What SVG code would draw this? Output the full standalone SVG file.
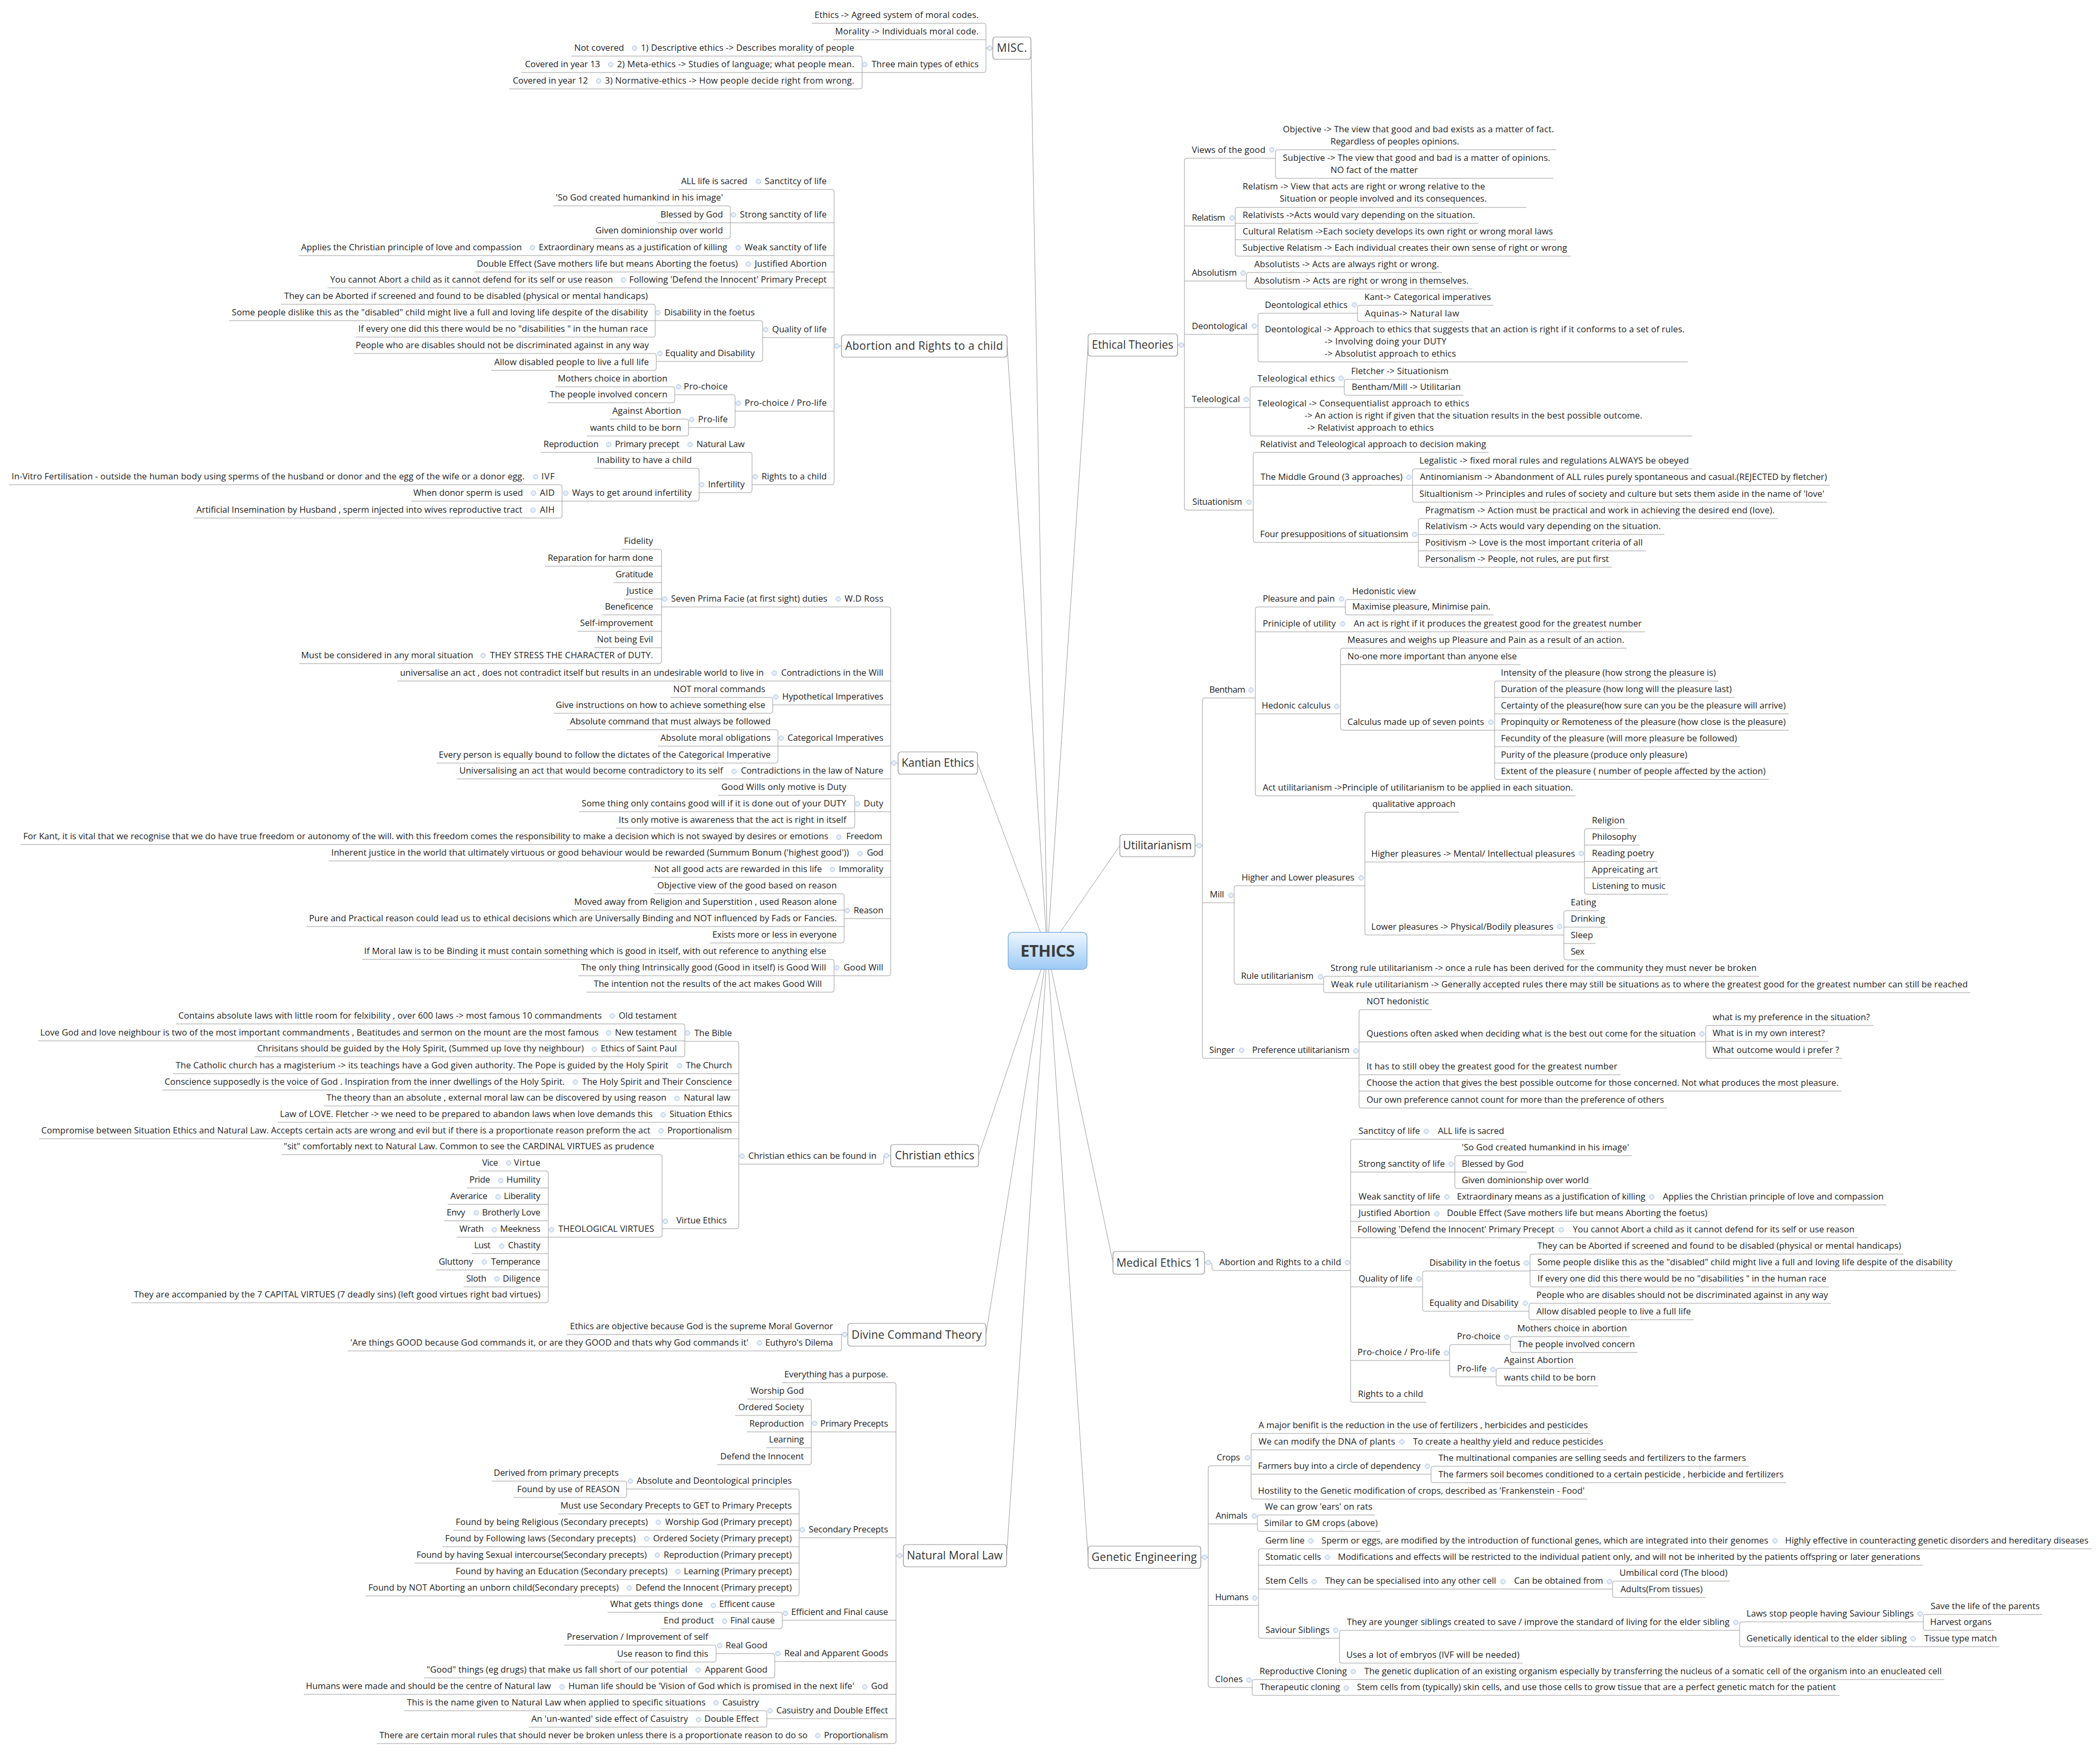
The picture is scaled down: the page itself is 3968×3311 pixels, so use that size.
<svg xmlns="http://www.w3.org/2000/svg" width="3968" height="3311" viewBox="0 0 3968 3311">
<style>
text{font-family:"Open Sans","Noto Sans","DejaVu Sans",sans-serif;font-size:16.5px;fill:#1e1e1e}
.e{text-anchor:end}
.m{font-size:21px;fill:#333;text-anchor:middle}
.c path{stroke:#9a9a9a;stroke-width:1;fill:none}
.b{fill:#fff;stroke:#8c8c8c;stroke-width:1.2}
</style>
<defs>
<linearGradient id="g" x1="0" y1="0" x2="0" y2="1"><stop offset="0" stop-color="#eef6ff"/><stop offset="1" stop-color="#9ccaf5"/></linearGradient>
<g id="k"><circle r="4.5" fill="#dce8f8" stroke="#aac4e6" stroke-width="1"/><path d="M-2.5,0H2.5" stroke="#fff" stroke-width="1.2"/></g>
</defs>
<rect width="3968" height="3311" fill="#fff"/>
<g id="connectors" class="c">
<path d="M1979,1797 L1948,91 M1979,1797 L1903,654 M1979,1797 L1847,1442 M1979,1797 L1849,2184 M1979,1797 L1863,2522 M1979,1797 L1902,2940 M1979,1797 L2056,652 M1979,1797 L2116,1598 M1979,1797 L2103,2386 M1979,1797 L2056,2943"/>
<path d="M1534,44 H1859 Q1863,44 1863,48 V133 Q1863,137 1859,137 H1629 M1574,75 H1863 M1863,91 H1876"/>
<path d="M1194,106 H1625 Q1629,106 1629,110 V164 Q1629,168 1625,168 H1126 M1149,137 H1629"/>
<path d="M1079,106 H1194 M985,137 H1149 M962,168 H1126"/>
<path d="M1282,358 H1572 Q1576,358 1576,362 V912 Q1576,916 1572,916 H1421 M1380,421 H1576 M564,483 H1576 M897,514 H1576 M619,544 H1576 M1441,638 H1576 M1389,777 H1576 M1576,654 H1590"/>
<path d="M1045,389 H1376 Q1380,389 1380,393 V447 Q1380,451 1376,451 H1121 M1243,421 H1380"/>
<path d="M1238,606 H1437 Q1441,606 1441,610 V679 Q1441,683 1437,683 H1240"/>
<path d="M531,575 H1234 Q1238,575 1238,579 V633 Q1238,637 1234,637 H672 M433,606 H1238"/>
<path d="M668,668 H1236 Q1240,668 1240,672 V696 Q1240,700 1236,700 H928"/>
<path d="M1275,746 H1385 Q1389,746 1389,750 V804 Q1389,808 1385,808 H1301"/>
<path d="M1049,731 H1271 Q1275,731 1275,735 V757 Q1275,761 1271,761 H1034"/>
<path d="M1152,792 H1297 Q1301,792 1301,796 V820 Q1301,824 1297,824 H1109"/>
<path d="M1022,855 H1417 Q1421,855 1421,859 V927 Q1421,931 1417,931 H1321"/>
<path d="M1123,885 H1317 Q1321,885 1321,889 V943 Q1321,947 1317,947 H1062"/>
<path d="M17,916 H1058 Q1062,916 1062,920 V975 Q1062,979 1058,979 H366 M777,947 H1062"/>
<path d="M1250,1147 H1679 Q1683,1147 1683,1151 V1840 Q1683,1844 1679,1844 H1576 M751,1287 H1683 M1460,1332 H1683 M1470,1410 H1683 M863,1472 H1683 M1615,1534 H1683 M39,1596 H1683 M621,1627 H1683 M1231,1658 H1683 M1595,1736 H1683 M1683,1442 H1697"/>
<path d="M1175,1038 H1246 Q1250,1038 1250,1042 V1250 Q1250,1254 1246,1254 H565 M1030,1070 H1250 M1159,1101 H1250 M1179,1132 H1250 M1138,1162 H1250 M1091,1193 H1250 M1123,1224 H1250"/>
<path d="M1267,1318 H1456 Q1460,1318 1460,1322 V1344 Q1460,1348 1456,1348 H1046"/>
<path d="M1071,1379 H1466 Q1470,1379 1470,1383 V1438 Q1470,1442 1466,1442 H825 M1243,1410 H1470"/>
<path d="M1357,1503 H1611 Q1615,1503 1615,1507 V1561 Q1615,1565 1611,1565 H1164 M1094,1534 H1615"/>
<path d="M1236,1689 H1591 Q1595,1689 1595,1693 V1778 Q1595,1782 1591,1782 H1341 M1080,1720 H1595 M579,1751 H1595"/>
<path d="M684,1813 H1572 Q1576,1813 1576,1817 V1871 Q1576,1875 1572,1875 H1108 M1093,1844 H1576"/>
<path d="M1396,2200 H1666 Q1670,2200 1670,2196 V2184 H1683"/>
<path d="M1294,1968 H1392 Q1396,1968 1396,1972 V2318 Q1396,2322 1392,2322 H1251 M327,2029 H1396 M307,2060 H1396 M612,2090 H1396 M525,2121 H1396 M74,2152 H1396"/>
<path d="M333,1935 H1290 Q1294,1935 1294,1939 V1993 Q1294,1997 1290,1997 H481 M72,1967 H1294"/>
<path d="M532,2182 H1247 Q1251,2182 1251,2186 V2334 Q1251,2338 1247,2338 H1036"/>
<path d="M905,2213 H1032 Q1036,2213 1036,2217 V2458 Q1036,2462 1032,2462 H248 M882,2245 H1036 M846,2276 H1036 M839,2307 H1036 M863,2338 H1036 M891,2369 H1036 M824,2400 H1036 M876,2432 H1036"/>
<path d="M1071,2522 H1602 M1590,2522 V2549 Q1590,2553 1586,2553 H657"/>
<path d="M1477,2613 H1689 Q1693,2613 1693,2617 V3291 Q1693,3295 1689,3295 H712 M1533,2706 H1693 M1510,2906 H1693 M1478,3062 H1693 M1464,3140 H1693 M574,3202 H1693 M1449,3248 H1693 M1693,2940 H1707"/>
<path d="M1412,2644 H1529 Q1533,2644 1533,2648 V2764 Q1533,2768 1529,2768 H1355 M1389,2675 H1533 M1411,2706 H1533 M1448,2736 H1533"/>
<path d="M1184,2814 H1506 Q1510,2814 1510,2818 V3012 Q1510,3016 1506,3016 H691 M1055,2861 H1510 M857,2892 H1510 M836,2923 H1510 M783,2954 H1510 M856,2985 H1510"/>
<path d="M929,2799 H1180 Q1184,2799 1184,2803 V2826 Q1184,2830 1180,2830 H970"/>
<path d="M1148,3047 H1474 Q1478,3047 1478,3051 V3074 Q1478,3078 1474,3078 H1249"/>
<path d="M1353,3125 H1460 Q1464,3125 1464,3129 V3167 Q1464,3171 1460,3171 H801"/>
<path d="M1066,3109 H1349 Q1353,3109 1353,3113 V3137 Q1353,3141 1349,3141 H1162"/>
<path d="M764,3233 H1445 Q1449,3233 1449,3237 V3260 Q1449,3264 1445,3264 H999"/>
<path d="M2410,299 H2242 Q2238,299 2238,303 V960 Q2238,964 2242,964 H2368 M2334,427 H2238 M2355,531 H2238 M2377,632 H2238 M2362,770 H2238 M2225,652 H2238"/>
<path d="M2941,283 H2414 Q2410,283 2410,287 V333 Q2410,337 2414,337 H2935"/>
<path d="M2884,392 H2338 Q2334,392 2334,396 V480 Q2334,484 2338,484 H2968 M2793,422 H2334 M2940,453 H2334"/>
<path d="M2725,515 H2359 Q2355,515 2355,519 V542 Q2355,546 2359,546 H2782"/>
<path d="M2565,592 H2381 Q2377,592 2377,596 V680 Q2377,684 2381,684 H3189"/>
<path d="M2822,577 H2569 Q2565,577 2565,581 V604 Q2565,608 2569,608 H2764"/>
<path d="M2540,731 H2366 Q2362,731 2362,735 V820 Q2362,824 2366,824 H3198"/>
<path d="M2743,717 H2544 Q2540,717 2540,721 V743 Q2540,747 2544,747 H2765"/>
<path d="M2813,855 H2372 Q2368,855 2368,859 V1021 Q2368,1025 2372,1025 H2680 M2669,917 H2368"/>
<path d="M3197,886 H2673 Q2669,886 2669,890 V945 Q2669,949 2673,949 H3452 M3458,917 H2669"/>
<path d="M3359,980 H2684 Q2680,980 2680,984 V1068 Q2680,1072 2684,1072 H3046 M3145,1010 H2680 M3110,1041 H2680"/>
<path d="M2372,1319 H2276 Q2272,1319 2272,1323 V1996 Q2272,2000 2276,2000 H2568 M2332,1706 H2272 M2258,1598 H2272"/>
<path d="M2542,1147 H2376 Q2372,1147 2372,1151 V1500 Q2372,1504 2376,1504 H2977 M3108,1194 H2372 M2533,1349 H2372"/>
<path d="M2681,1133 H2546 Q2542,1133 2542,1137 V1158 Q2542,1162 2546,1162 H2822"/>
<path d="M3074,1225 H2537 Q2533,1225 2533,1229 V1376 Q2533,1380 2537,1380 H2824 M2873,1256 H2533"/>
<path d="M3247,1287 H2828 Q2824,1287 2824,1291 V1469 Q2824,1473 2828,1473 H3342 M3278,1318 H2824 M3380,1349 H2824 M3380,1380 H2824 M3288,1411 H2824 M3193,1442 H2824"/>
<path d="M2579,1674 H2336 Q2332,1674 2332,1678 V1856 Q2332,1860 2336,1860 H2501"/>
<path d="M2757,1535 H2583 Q2579,1535 2579,1539 V1763 Q2579,1767 2583,1767 H2955 M2994,1629 H2579"/>
<path d="M3076,1566 H2998 Q2994,1566 2994,1570 V1686 Q2994,1690 2998,1690 H3152 M3098,1597 H2994 M3131,1628 H2994 M3139,1659 H2994"/>
<path d="M3021,1721 H2959 Q2955,1721 2955,1725 V1810 Q2955,1814 2959,1814 H3000 M3038,1752 H2955 M3015,1783 H2955"/>
<path d="M3324,1845 H2505 Q2501,1845 2501,1849 V1872 Q2501,1876 2505,1876 H3723"/>
<path d="M2706,1908 H2572 Q2568,1908 2568,1912 V2090 Q2568,2094 2572,2094 H3150 M3223,1969 H2568 M3062,2031 H2568 M3480,2062 H2568"/>
<path d="M3540,1938 H3227 Q3223,1938 3223,1942 V1996 Q3223,2000 3227,2000 H3481 M3454,1968 H3223"/>
<path d="M2276,2386 H2286 Q2290,2386 2290,2390 V2397 Q2290,2401 2294,2401 H2552"/>
<path d="M2847,2153 H2556 Q2552,2153 2552,2157 V2646 Q2552,2650 2556,2650 H2695 M2749,2215 H2552 M3564,2277 H2552 M3231,2308 H2552 M3510,2339 H2552 M2688,2432 H2552 M2739,2571 H2552"/>
<path d="M3083,2184 H2753 Q2749,2184 2749,2188 V2242 Q2749,2246 2753,2246 H3008 M2885,2215 H2749"/>
<path d="M2891,2402 H2692 Q2688,2402 2688,2406 V2474 Q2688,2478 2692,2478 H2889"/>
<path d="M3597,2370 H2895 Q2891,2370 2891,2374 V2428 Q2891,2432 2895,2432 H3456 M3696,2401 H2891"/>
<path d="M3460,2463 H2893 Q2889,2463 2889,2467 V2490 Q2889,2494 2893,2494 H3200"/>
<path d="M2854,2541 H2743 Q2739,2541 2739,2545 V2598 Q2739,2602 2743,2602 H2827"/>
<path d="M3080,2526 H2858 Q2854,2526 2854,2530 V2552 Q2854,2556 2858,2556 H3094"/>
<path d="M2978,2586 H2831 Q2827,2586 2827,2590 V2615 Q2827,2619 2831,2619 H3020"/>
<path d="M2364,2770 H2287 Q2283,2770 2283,2774 V3185 Q2283,3189 2287,3189 H2366 M2376,2880 H2283 M2378,3034 H2283 M2269,2943 H2283"/>
<path d="M3005,2709 H2368 Q2364,2709 2364,2713 V2829 Q2364,2833 2368,2833 H2999 M3035,2740 H2364 M2704,2786 H2364"/>
<path d="M3305,2771 H2708 Q2704,2771 2704,2775 V2798 Q2704,2802 2708,2802 H3375"/>
<path d="M2598,2863 H2380 Q2376,2863 2376,2867 V2890 Q2376,2894 2380,2894 H2609"/>
<path d="M3952,2927 H2382 Q2378,2927 2378,2931 V3092 Q2378,3096 2382,3096 H2531 M3633,2958 H2378 M3047,3003 H2378"/>
<path d="M3269,2988 H3051 Q3047,2988 3047,2992 V3015 Q3047,3019 3051,3019 H3223"/>
<path d="M3287,3081 H2535 Q2531,3081 2531,3085 V3139 Q2531,3143 2535,3143 H2877"/>
<path d="M3634,3065 H3291 Q3287,3065 3287,3069 V3108 Q3287,3112 3291,3112 H3778"/>
<path d="M3859,3051 H3638 Q3634,3051 3634,3055 V3077 Q3634,3081 3638,3081 H3768"/>
<path d="M3674,3174 H2370 Q2366,3174 2366,3178 V3200 Q2366,3204 2370,3204 H3476"/>
</g>
<g id="ethics"><rect x="1905" y="1762" width="149" height="70" rx="9" fill="url(#g)" stroke="#7fb0e0" stroke-width="1.5"/><text x="1979.5" y="1808" text-anchor="middle" style="font-size:31px;font-weight:bold;fill:#3c3c3c" textLength="103">ETHICS</text></g>

<g id="misc"><rect class="b" x="1876" y="70" width="72" height="42" rx="5"/><text class="m" x="1912" y="98" textLength="57">MISC.</text><use href="#k" x="1870" y="91"/></g>
<g id="misc1"><text class="e" x="1849" y="34" textLength="310">Ethics -&gt; Agreed system of moral codes.</text></g>
<g id="misc2"><text class="e" x="1849" y="65" textLength="271">Morality -&gt; Individuals moral code.</text></g>
<g id="misc3"><text class="e" x="1849" y="127" textLength="202">Three main types of ethics</text><use href="#k" x="1634" y="122"/></g>
<g id="misc4"><text class="e" x="1614" y="96" textLength="403">1) Descriptive ethics -&gt; Describes morality of people</text><use href="#k" x="1199" y="91"/></g>
<g id="misc5"><text class="e" x="1614" y="127" textLength="448">2) Meta-ethics -&gt; Studies of language; what people mean.</text><use href="#k" x="1154" y="122"/></g>
<g id="misc6"><text class="e" x="1614" y="158" textLength="471">3) Normative-ethics -&gt; How people decide right from wrong.</text><use href="#k" x="1131" y="153"/></g>
<g id="misc7"><text class="e" x="1179" y="96" textLength="94">Not covered</text></g>
<g id="misc8"><text class="e" x="1134" y="127" textLength="142">Covered in year 13</text></g>
<g id="misc9"><text class="e" x="1111" y="158" textLength="142">Covered in year 12</text></g>

<g id="ab"><rect class="b" x="1590" y="633" width="313" height="42" rx="5"/><text class="m" x="1746" y="661" textLength="298">Abortion and Rights to a child</text><use href="#k" x="1581" y="654"/></g>
<g id="ab1"><text class="e" x="1562" y="348" textLength="117">Sanctitcy of life</text><use href="#k" x="1433" y="343"/></g>
<g id="ab2"><text class="e" x="1412" y="348" textLength="125">ALL life is sacred</text></g>
<g id="ab3"><text class="e" x="1562" y="411" textLength="164">Strong sanctity of life</text><use href="#k" x="1386" y="406"/></g>
<g id="ab4"><text class="e" x="1366" y="379" textLength="316">'So God created humankind in his image'</text></g>
<g id="ab5"><text class="e" x="1366" y="411" textLength="118">Blessed by God</text></g>
<g id="ab6"><text class="e" x="1366" y="441" textLength="241">Given dominionship over world</text></g>
<g id="ab7"><text class="e" x="1562" y="473" textLength="155">Weak sanctity of life</text><use href="#k" x="1395" y="468"/></g>
<g id="ab8"><text class="e" x="1374" y="473" textLength="356">Extraordinary means as a justification of killing</text><use href="#k" x="1006" y="468"/></g>
<g id="ab9"><text class="e" x="986" y="473" textLength="417">Applies the Christian principle of love and compassion</text></g>
<g id="ab10"><text class="e" x="1562" y="504" textLength="136">Justified Abortion</text><use href="#k" x="1414" y="499"/></g>
<g id="ab11"><text class="e" x="1394" y="504" textLength="493">Double Effect (Save mothers life but means Aborting the foetus)</text></g>
<g id="ab12"><text class="e" x="1562" y="534" textLength="373">Following 'Defend the Innocent' Primary Precept</text><use href="#k" x="1178" y="529"/></g>
<g id="ab13"><text class="e" x="1158" y="534" textLength="534">You cannot Abort a child as it cannot defend for its self or use reason</text></g>
<g id="ab14"><text class="e" x="1562" y="628" textLength="103">Quality of life</text><use href="#k" x="1447" y="623"/></g>
<g id="ab15"><text class="e" x="1426" y="596" textLength="171">Disability in the foetus</text><use href="#k" x="1243" y="591"/></g>
<g id="ab16"><text class="e" x="1224" y="565" textLength="687">They can be Aborted if screened and found to be disabled (physical or mental handicaps)</text></g>
<g id="ab17"><text class="e" x="1224" y="596" textLength="786">Some people dislike this as the "disabled" child might live a full and loving life despite of the disability</text></g>
<g id="ab18"><text class="e" x="1224" y="627" textLength="547">If every one did this there would be no "disabilities " in the human race</text></g>
<g id="ab19"><text class="e" x="1426" y="673" textLength="169">Equality and Disability</text><use href="#k" x="1247" y="668"/></g>
<g id="ab20"><text class="e" x="1226" y="658" textLength="554">People who are disables should not be discriminated against in any way</text></g>
<g id="ab21"><text class="e" x="1226" y="690" textLength="292">Allow disabled people to live a full life</text></g>
<g id="ab22"><text class="e" x="1562" y="767" textLength="155">Pro-choice / Pro-life</text><use href="#k" x="1395" y="762"/></g>
<g id="ab23"><text class="e" x="1375" y="736" textLength="83">Pro-choice</text><use href="#k" x="1282" y="731"/></g>
<g id="ab24"><text class="e" x="1261" y="721" textLength="207">Mothers choice in abortion</text></g>
<g id="ab25"><text class="e" x="1261" y="751" textLength="222">The people involved concern</text></g>
<g id="ab26"><text class="e" x="1375" y="798" textLength="56">Pro-life</text><use href="#k" x="1307" y="793"/></g>
<g id="ab27"><text class="e" x="1287" y="782" textLength="130">Against Abortion</text></g>
<g id="ab28"><text class="e" x="1287" y="814" textLength="172">wants child to be born</text></g>
<g id="ab29"><text class="e" x="1562" y="906" textLength="123">Rights to a child</text><use href="#k" x="1427" y="901"/></g>
<g id="ab30"><text class="e" x="1407" y="845" textLength="91">Natural Law</text><use href="#k" x="1304" y="840"/></g>
<g id="ab31"><text class="e" x="1284" y="845" textLength="122">Primary precept</text><use href="#k" x="1150" y="840"/></g>
<g id="ab32"><text class="e" x="1131" y="845" textLength="104">Reproduction</text></g>
<g id="ab33"><text class="e" x="1407" y="921" textLength="69">Infertility</text><use href="#k" x="1326" y="916"/></g>
<g id="ab34"><text class="e" x="1307" y="875" textLength="179">Inability to have a child</text></g>
<g id="ab35"><text class="e" x="1307" y="937" textLength="226">Ways to get around infertility</text><use href="#k" x="1069" y="932"/></g>
<g id="ab36"><text class="e" x="1048" y="906" textLength="25">IVF</text><use href="#k" x="1012" y="901"/></g>
<g id="ab37"><text class="e" x="991" y="906" textLength="969">In-Vitro Fertilisation - outside the human body using sperms of the husband or donor and the egg of the wife or a donor egg.</text></g>
<g id="ab38"><text class="e" x="1048" y="937" textLength="28">AID</text><use href="#k" x="1008" y="932"/></g>
<g id="ab39"><text class="e" x="988" y="937" textLength="207">When donor sperm is used</text></g>
<g id="ab40"><text class="e" x="1048" y="969" textLength="28">AIH</text><use href="#k" x="1007" y="964"/></g>
<g id="ab41"><text class="e" x="987" y="969" textLength="616">Artificial Insemination by Husband , sperm injected into wives reproductive tract</text></g>

<g id="ka"><rect class="b" x="1697" y="1421" width="150" height="42" rx="5"/><text class="m" x="1772" y="1449" textLength="137">Kantian Ethics</text><use href="#k" x="1689" y="1442"/></g>
<g id="ka1"><text class="e" x="1669" y="1137" textLength="73">W.D Ross</text><use href="#k" x="1584" y="1132"/></g>
<g id="ka2"><text class="e" x="1563" y="1137" textLength="295">Seven Prima Facie (at first sight) duties</text><use href="#k" x="1256" y="1132"/></g>
<g id="ka3"><text class="e" x="1234" y="1028" textLength="55">Fidelity</text></g>
<g id="ka4"><text class="e" x="1234" y="1060" textLength="199">Reparation for harm done</text></g>
<g id="ka5"><text class="e" x="1234" y="1091" textLength="71">Gratitude</text></g>
<g id="ka6"><text class="e" x="1234" y="1122" textLength="50">Justice</text></g>
<g id="ka7"><text class="e" x="1234" y="1152" textLength="91">Beneficence</text></g>
<g id="ka8"><text class="e" x="1234" y="1183" textLength="138">Self-improvement</text></g>
<g id="ka9"><text class="e" x="1234" y="1214" textLength="106">Not being Evil</text></g>
<g id="ka10"><text class="e" x="1234" y="1244" textLength="308">THEY STRESS THE CHARACTER of DUTY.</text><use href="#k" x="913" y="1239"/></g>
<g id="ka11"><text class="e" x="894" y="1244" textLength="325">Must be considered in any moral situation</text></g>
<g id="ka12"><text class="e" x="1669" y="1277" textLength="193">Contradictions in the Will</text><use href="#k" x="1463" y="1272"/></g>
<g id="ka13"><text class="e" x="1443" y="1277" textLength="687">universalise an act , does not contradict itself but results in an undesirable world to live in</text></g>
<g id="ka14"><text class="e" x="1669" y="1322" textLength="191">Hypothetical Imperatives</text><use href="#k" x="1466" y="1317"/></g>
<g id="ka15"><text class="e" x="1446" y="1308" textLength="174">NOT moral commands</text></g>
<g id="ka16"><text class="e" x="1446" y="1338" textLength="396">Give instructions on how to achieve something else</text></g>
<g id="ka17"><text class="e" x="1669" y="1400" textLength="181">Categorical Imperatives</text><use href="#k" x="1476" y="1395"/></g>
<g id="ka18"><text class="e" x="1456" y="1369" textLength="379">Absolute command that must always be followed</text></g>
<g id="ka19"><text class="e" x="1456" y="1400" textLength="208">Absolute moral obligations</text></g>
<g id="ka20"><text class="e" x="1456" y="1432" textLength="627">Every person is equally bound to follow the dictates of the Categorical Imperative</text></g>
<g id="ka21"><text class="e" x="1669" y="1462" textLength="269">Contradictions in the law of Nature</text><use href="#k" x="1387" y="1458"/></g>
<g id="ka22"><text class="e" x="1366" y="1462" textLength="498">Universalising an act  that would become contradictory to its self</text></g>
<g id="ka23"><text class="e" x="1669" y="1524" textLength="37">Duty</text><use href="#k" x="1620" y="1519"/></g>
<g id="ka24"><text class="e" x="1599" y="1493" textLength="236">Good Wills only motive is Duty</text></g>
<g id="ka25"><text class="e" x="1599" y="1524" textLength="500">Some thing only contains good will if it is done out of your DUTY</text></g>
<g id="ka26"><text class="e" x="1599" y="1555" textLength="430">Its only  motive is awareness that the act is right in itself</text></g>
<g id="ka27"><text class="e" x="1667" y="1586" textLength="68">Freedom</text><use href="#k" x="1585" y="1582"/></g>
<g id="ka28"><text class="e" x="1565" y="1586" textLength="1521">For Kant, it is vital that we recognise that we do have true freedom or autonomy of the will. with this freedom comes the responsibility to make a decision which is not swayed by desires or emotions</text></g>
<g id="ka29"><text class="e" x="1669" y="1617" textLength="31">God</text><use href="#k" x="1625" y="1613"/></g>
<g id="ka30"><text class="e" x="1604" y="1617" textLength="978">Inherent justice in the world that ultimately virtuous or good behaviour would be rewarded (Summum Bonum ('highest good'))</text></g>
<g id="ka31"><text class="e" x="1669" y="1648" textLength="84">Immorality</text><use href="#k" x="1573" y="1643"/></g>
<g id="ka32"><text class="e" x="1553" y="1648" textLength="317">Not all good acts are rewarded in this life</text></g>
<g id="ka33"><text class="e" x="1669" y="1726" textLength="56">Reason</text><use href="#k" x="1601" y="1721"/></g>
<g id="ka34"><text class="e" x="1581" y="1679" textLength="339">Objective view of the good based on reason</text></g>
<g id="ka35"><text class="e" x="1581" y="1710" textLength="496">Moved away from Religion and Superstition , used Reason alone</text></g>
<g id="ka36"><text class="e" x="1581" y="1741" textLength="997">Pure and Practical reason could lead us to ethical decisions which are Universally  Binding and NOT influenced by Fads or Fancies.</text></g>
<g id="ka37"><text class="e" x="1581" y="1772" textLength="235">Exists more or less in everyone</text></g>
<g id="ka38"><text class="e" x="1669" y="1834" textLength="75">Good Will</text><use href="#k" x="1581" y="1829"/></g>
<g id="ka39"><text class="e" x="1561" y="1803" textLength="873">If Moral law is to be Binding it must contain something which is good in itself, with out reference to anything else</text></g>
<g id="ka40"><text class="e" x="1561" y="1834" textLength="463">The only thing Intrinsically good (Good in itself) is Good Will</text></g>
<g id="ka41"><text class="e" x="1553" y="1865" textLength="431">The intention not the results of the act makes Good Will</text></g>

<g id="ch"><rect class="b" x="1683" y="2163" width="166" height="42" rx="5"/><text class="m" x="1766" y="2191" textLength="150">Christian ethics</text><use href="#k" x="1675" y="2184"/></g>
<g id="ch1"><text class="e" x="1656" y="2190" textLength="242">Christian ethics can be found in</text><use href="#k" x="1402" y="2185"/></g>
<g id="ch2"><text class="e" x="1383" y="1958" textLength="71">The Bible</text><use href="#k" x="1299" y="1952"/></g>
<g id="ch3"><text class="e" x="1279" y="1925" textLength="110">Old testament</text><use href="#k" x="1157" y="1920"/></g>
<g id="ch4"><text class="e" x="1137" y="1925" textLength="800">Contains absolute laws with little room for felxibility , over 600 laws -&gt; most famous 10 commandments</text></g>
<g id="ch5"><text class="e" x="1279" y="1957" textLength="117">New testament</text><use href="#k" x="1150" y="1952"/></g>
<g id="ch6"><text class="e" x="1131" y="1957" textLength="1055">Love God and love neighbour is two of the most important  commandments , Beatitudes and sermon on the mount are the most famous</text></g>
<g id="ch7"><text class="e" x="1279" y="1987" textLength="144">Ethics of Saint Paul</text><use href="#k" x="1123" y="1983"/></g>
<g id="ch8"><text class="e" x="1103" y="1987" textLength="617">Chrisitans should be guided by the Holy Spirit, (Summed up love thy neighbour)</text></g>
<g id="ch9"><text class="e" x="1383" y="2019" textLength="87">The Church</text><use href="#k" x="1284" y="2014"/></g>
<g id="ch10"><text class="e" x="1263" y="2019" textLength="931">The Catholic church has a magisterium -&gt; its teachings have a God given authority. The Pope is guided by the Holy Spirit</text></g>
<g id="ch11"><text class="e" x="1383" y="2050" textLength="283">The Holy Spirit and Their Conscience</text><use href="#k" x="1087" y="2045"/></g>
<g id="ch12"><text class="e" x="1067" y="2050" textLength="756">Conscience supposedly is the voice of God . Inspiration from the inner dwellings of the Holy Spirit.</text></g>
<g id="ch13"><text class="e" x="1380" y="2080" textLength="88">Natural law</text><use href="#k" x="1279" y="2076"/></g>
<g id="ch14"><text class="e" x="1259" y="2080" textLength="642">The theory than an absolute , external moral law can be discovered by using reason</text></g>
<g id="ch15"><text class="e" x="1383" y="2111" textLength="118">Situation Ethics</text><use href="#k" x="1253" y="2107"/></g>
<g id="ch16"><text class="e" x="1233" y="2111" textLength="704">Law of LOVE. Fletcher -&gt; we need to be prepared to abandon laws when love demands this</text></g>
<g id="ch17"><text class="e" x="1383" y="2142" textLength="122">Proportionalism</text><use href="#k" x="1249" y="2137"/></g>
<g id="ch18"><text class="e" x="1229" y="2142" textLength="1151">Compromise between Situation Ethics and Natural Law. Accepts certain acts are wrong and evil  but if there is a proportionate reason preform the act</text></g>
<g id="ch19"><text class="e" x="1373" y="2312" textLength="95">Virtue Ethics</text><use href="#k" x="1257" y="2308"/></g>
<g id="ch20"><text class="e" x="1236" y="2172" textLength="700">"sit" comfortably next to Natural Law. Common to see the CARDINAL VIRTUES as prudence</text></g>
<g id="ch21"><text class="e" x="1236" y="2328" textLength="181">THEOLOGICAL VIRTUES</text><use href="#k" x="1042" y="2324"/></g>
<g id="ch22"><text class="e" x="1021" y="2203" textLength="50">Virtue</text><use href="#k" x="961" y="2198"/></g>
<g id="ch23"><text class="e" x="941" y="2203" textLength="30">Vice</text></g>
<g id="ch24"><text class="e" x="1021" y="2235" textLength="64">Humility</text><use href="#k" x="946" y="2231"/></g>
<g id="ch25"><text class="e" x="926" y="2235" textLength="39">Pride</text></g>
<g id="ch26"><text class="e" x="1021" y="2266" textLength="69">Liberality</text><use href="#k" x="941" y="2262"/></g>
<g id="ch27"><text class="e" x="921" y="2266" textLength="70">Averarice</text></g>
<g id="ch28"><text class="e" x="1021" y="2297" textLength="110">Brotherly Love</text><use href="#k" x="900" y="2292"/></g>
<g id="ch29"><text class="e" x="879" y="2297" textLength="35">Envy</text></g>
<g id="ch30"><text class="e" x="1021" y="2328" textLength="76">Meekness</text><use href="#k" x="934" y="2324"/></g>
<g id="ch31"><text class="e" x="914" y="2328" textLength="46">Wrath</text></g>
<g id="ch32"><text class="e" x="1021" y="2359" textLength="61">Chastity</text><use href="#k" x="948" y="2355"/></g>
<g id="ch33"><text class="e" x="927" y="2359" textLength="31">Lust</text></g>
<g id="ch34"><text class="e" x="1021" y="2390" textLength="93">Temperance</text><use href="#k" x="915" y="2385"/></g>
<g id="ch35"><text class="e" x="894" y="2390" textLength="65">Gluttony</text></g>
<g id="ch36"><text class="e" x="1021" y="2422" textLength="71">Diligence</text><use href="#k" x="939" y="2417"/></g>
<g id="ch37"><text class="e" x="919" y="2422" textLength="38">Sloth</text></g>
<g id="ch38"><text class="e" x="1021" y="2452" textLength="768">They are accompanied by the 7 CAPITAL VIRTUES (7 deadly sins) (left good virtues right bad virtues)</text></g>

<g id="dc"><rect class="b" x="1602" y="2501" width="261" height="43" rx="5"/><text class="m" x="1732" y="2530" textLength="246">Divine Command Theory</text><use href="#k" x="1596" y="2522"/></g>
<g id="dc1"><text class="e" x="1574" y="2512" textLength="497">Ethics are objective because God is the supreme Moral Governor</text></g>
<g id="dc2"><text class="e" x="1574" y="2543" textLength="128">Euthyro's Dilema</text><use href="#k" x="1435" y="2538"/></g>
<g id="dc3"><text class="e" x="1414" y="2543" textLength="752">'Are things GOOD because God commands it, or are they GOOD and thats why God commands it'</text></g>

<g id="nl"><rect class="b" x="1707" y="2919" width="195" height="42" rx="5"/><text class="m" x="1804" y="2947" textLength="181">Natural Moral Law</text><use href="#k" x="1700" y="2940"/></g>
<g id="nl1"><text class="e" x="1678" y="2603" textLength="196">Everything has a purpose.</text></g>
<g id="nl2"><text class="e" x="1678" y="2696" textLength="128">Primary Precepts</text><use href="#k" x="1539" y="2690"/></g>
<g id="nl3"><text class="e" x="1519" y="2634" textLength="101">Worship God</text></g>
<g id="nl4"><text class="e" x="1519" y="2665" textLength="124">Ordered Society</text></g>
<g id="nl5"><text class="e" x="1519" y="2696" textLength="103">Reproduction</text></g>
<g id="nl6"><text class="e" x="1519" y="2726" textLength="66">Learning</text></g>
<g id="nl7"><text class="e" x="1519" y="2758" textLength="158">Defend the Innocent</text></g>
<g id="nl8"><text class="e" x="1678" y="2896" textLength="150">Secondary Precepts</text><use href="#k" x="1516" y="2891"/></g>
<g id="nl9"><text class="e" x="1496" y="2804" textLength="293">Absolute and Deontological principles</text><use href="#k" x="1191" y="2799"/></g>
<g id="nl10"><text class="e" x="1169" y="2789" textLength="236">Derived from primary precepts</text></g>
<g id="nl11"><text class="e" x="1171" y="2820" textLength="194">Found by use of REASON</text></g>
<g id="nl12"><text class="e" x="1496" y="2851" textLength="437">Must use Secondary Precepts to GET to Primary Precepts</text></g>
<g id="nl13"><text class="e" x="1496" y="2882" textLength="239">Worship God (Primary precept)</text><use href="#k" x="1244" y="2877"/></g>
<g id="nl14"><text class="e" x="1224" y="2882" textLength="363">Found by being Religious (Secondary precepts)</text></g>
<g id="nl15"><text class="e" x="1496" y="2913" textLength="262">Ordered Society (Primary precept)</text><use href="#k" x="1222" y="2908"/></g>
<g id="nl16"><text class="e" x="1201" y="2913" textLength="360">Found  by Following laws (Secondary precepts)</text></g>
<g id="nl17"><text class="e" x="1496" y="2944" textLength="242">Reproduction (Primary precept)</text><use href="#k" x="1242" y="2939"/></g>
<g id="nl18"><text class="e" x="1222" y="2944" textLength="435">Found by having Sexual intercourse(Secondary precepts)</text></g>
<g id="nl19"><text class="e" x="1496" y="2975" textLength="204">Learning (Primary precept)</text><use href="#k" x="1281" y="2970"/></g>
<g id="nl20"><text class="e" x="1261" y="2975" textLength="400">Found by having an Education (Secondary precepts)</text></g>
<g id="nl21"><text class="e" x="1496" y="3006" textLength="295">Defend the Innocent (Primary precept)</text><use href="#k" x="1189" y="3001"/></g>
<g id="nl22"><text class="e" x="1169" y="3006" textLength="473">Found by NOT Aborting an unborn child(Secondary precepts)</text></g>
<g id="nl23"><text class="e" x="1678" y="3052" textLength="183">Efficient and Final cause</text><use href="#k" x="1484" y="3049"/></g>
<g id="nl24"><text class="e" x="1464" y="3037" textLength="105">Efficent cause</text><use href="#k" x="1348" y="3034"/></g>
<g id="nl25"><text class="e" x="1328" y="3037" textLength="175">What gets things done</text></g>
<g id="nl26"><text class="e" x="1464" y="3068" textLength="84">Final cause</text><use href="#k" x="1369" y="3064"/></g>
<g id="nl27"><text class="e" x="1349" y="3068" textLength="95">End product</text></g>
<g id="nl28"><text class="e" x="1678" y="3130" textLength="196">Real and Apparent Goods</text><use href="#k" x="1470" y="3125"/></g>
<g id="nl29"><text class="e" x="1450" y="3115" textLength="79">Real Good</text><use href="#k" x="1360" y="3110"/></g>
<g id="nl30"><text class="e" x="1338" y="3099" textLength="267">Preservation / Improvement of self</text></g>
<g id="nl31"><text class="e" x="1338" y="3131" textLength="172">Use reason to find this</text></g>
<g id="nl32"><text class="e" x="1450" y="3161" textLength="118">Apparent Good</text><use href="#k" x="1319" y="3156"/></g>
<g id="nl33"><text class="e" x="1299" y="3161" textLength="493">"Good" things (eg drugs) that make us fall short of our potential</text></g>
<g id="nl34"><text class="e" x="1678" y="3192" textLength="32">God</text><use href="#k" x="1634" y="3188"/></g>
<g id="nl35"><text class="e" x="1614" y="3192" textLength="540">Human life should be 'Vision of God which is promised in the next life'</text><use href="#k" x="1062" y="3188"/></g>
<g id="nl36"><text class="e" x="1041" y="3192" textLength="463">Humans were made and should be the centre of Natural law</text></g>
<g id="nl37"><text class="e" x="1678" y="3238" textLength="211">Casuistry and Double Effect</text><use href="#k" x="1455" y="3233"/></g>
<g id="nl38"><text class="e" x="1434" y="3223" textLength="69">Casuistry</text><use href="#k" x="1353" y="3218"/></g>
<g id="nl39"><text class="e" x="1333" y="3223" textLength="564">This is the name given to Natural Law when applied  to specific situations</text></g>
<g id="nl40"><text class="e" x="1434" y="3254" textLength="103">Double Effect</text><use href="#k" x="1320" y="3250"/></g>
<g id="nl41"><text class="e" x="1300" y="3254" textLength="296">An 'un-wanted' side effect of Casuistry</text></g>
<g id="nl42"><text class="e" x="1678" y="3285" textLength="121">Proportionalism</text><use href="#k" x="1545" y="3280"/></g>
<g id="nl43"><text class="e" x="1526" y="3285" textLength="809">There are certain moral rules that should never be broken unless there is a proportionate reason to do so</text></g>

<g id="et"><rect class="b" x="2056" y="631" width="169" height="42" rx="5"/><text class="m" x="2140" y="659" textLength="154">Ethical Theories</text><use href="#k" x="2232" y="652"/></g>
<g id="et1"><text x="2252" y="289" textLength="139">Views of the good</text><use href="#k" x="2403" y="283"/></g>
<g id="et2"><text x="2424" y="250" textLength="512">Objective -&gt; The view that good and bad exists as a matter of fact.</text><text x="2514" y="273" textLength="243">Regardless of peoples opinions.</text></g>
<g id="et3"><text x="2424" y="304" textLength="505">Subjective -&gt; The view that good and bad is a matter of opinions.</text><text x="2514" y="327" textLength="165">NO fact of the matter</text></g>
<g id="et4"><text x="2252" y="417" textLength="63">Relatism</text><use href="#k" x="2328" y="412"/></g>
<g id="et5"><text x="2348" y="358" textLength="458">Relatism -&gt; View that acts are right or wrong relative to the</text><text x="2418" y="381" textLength="391">Situation or people involved and its consequences.</text></g>
<g id="et6"><text x="2348" y="412" textLength="439">Relativists -&gt;Acts would vary depending on the situation.</text></g>
<g id="et7"><text x="2348" y="443" textLength="586">Cultural Relatism -&gt;Each society develops its own right or wrong moral laws</text></g>
<g id="et8"><text x="2348" y="474" textLength="613">Subjective Relatism -&gt; Each individual creates their own sense of right or wrong</text></g>
<g id="et9"><text x="2252" y="521" textLength="85">Absolutism</text><use href="#k" x="2349" y="516"/></g>
<g id="et10"><text x="2370" y="505" textLength="349">Absolutists -&gt; Acts are always right or wrong.</text></g>
<g id="et11"><text x="2370" y="536" textLength="405">Absolutism -&gt; Acts are right or wrong in themselves.</text></g>
<g id="et12"><text x="2252" y="622" textLength="105">Deontological</text><use href="#k" x="2370" y="616"/></g>
<g id="et13"><text x="2390" y="582" textLength="156">Deontological ethics</text><use href="#k" x="2559" y="576"/></g>
<g id="et14"><text x="2578" y="567" textLength="239">Kant-&gt; Categorical imperatives</text></g>
<g id="et15"><text x="2579" y="598" textLength="178">Aquinas-&gt;  Natural law</text></g>
<g id="et16"><text x="2390" y="628" textLength="793">Deontological -&gt; Approach to ethics that suggests that an action is right if it conforms to a set of rules.</text><text x="2503" y="651" textLength="230">-&gt; Involving doing your DUTY</text><text x="2503" y="674" textLength="248">-&gt; Absolutist approach to ethics</text></g>
<g id="et17"><text x="2252" y="760" textLength="91">Teleological</text><use href="#k" x="2355" y="755"/></g>
<g id="et18"><text x="2376" y="721" textLength="146">Teleological  ethics</text><use href="#k" x="2534" y="715"/></g>
<g id="et19"><text x="2553" y="707" textLength="184">Fletcher -&gt; Situationism</text></g>
<g id="et20"><text x="2554" y="737" textLength="206">Bentham/Mill -&gt; Utilitarian</text></g>
<g id="et21"><text x="2376" y="768" textLength="400">Teleological -&gt; Consequentialist  approach to ethics</text><text x="2465" y="791" textLength="638">-&gt; An action is right if given that the situation results in the best possible outcome.</text><text x="2470" y="814" textLength="239">-&gt; Relativist approach to ethics</text></g>
<g id="et22"><text x="2253" y="954" textLength="94">Situationism</text><use href="#k" x="2360" y="949"/></g>
<g id="et23"><text x="2381" y="845" textLength="427">Relativist and Teleological approach to decision making</text></g>
<g id="et24"><text x="2382" y="907" textLength="268">The Middle Ground (3 approaches)</text><use href="#k" x="2662" y="902"/></g>
<g id="et25"><text x="2682" y="876" textLength="509">Legalistic -&gt; fixed moral rules and regulations ALWAYS be obeyed</text></g>
<g id="et26"><text x="2683" y="907" textLength="769">Antinomianism -&gt; Abandonment of ALL rules purely spontaneous and casual.(REJECTED by fletcher)</text></g>
<g id="et27"><text x="2682" y="939" textLength="765">Situaltionism -&gt; Principles and rules of society and culture but sets them aside in the name of 'love'</text></g>
<g id="et28"><text x="2381" y="1015" textLength="280">Four presuppositions of situationsim</text><use href="#k" x="2673" y="1010"/></g>
<g id="et29"><text x="2693" y="970" textLength="660">Pragmatism -&gt;  Action must be practical and work in achieving the desired end (love).</text></g>
<g id="et30"><text x="2693" y="1000" textLength="445">Relativism -&gt; Acts would vary depending on the situation.</text></g>
<g id="et31"><text x="2693" y="1031" textLength="411">Positivism -&gt; Love is the most important criteria of all</text></g>
<g id="et32"><text x="2693" y="1062" textLength="347">Personalism -&gt; People, not rules, are put first</text></g>

<g id="ut"><rect class="b" x="2116" y="1577" width="142" height="42" rx="5"/><text class="m" x="2187" y="1605" textLength="130">Utilitarianism</text><use href="#k" x="2266" y="1598"/></g>
<g id="ut1"><text x="2285" y="1309" textLength="68">Bentham</text><use href="#k" x="2364" y="1304"/></g>
<g id="ut2"><text x="2386" y="1137" textLength="136">Pleasure and pain</text><use href="#k" x="2535" y="1132"/></g>
<g id="ut3"><text x="2555" y="1123" textLength="120">Hedonistic view</text></g>
<g id="ut4"><text x="2555" y="1152" textLength="261">Maximise pleasure, Minimise pain.</text></g>
<g id="ut5"><text x="2386" y="1184" textLength="138">Priniciple of utility</text><use href="#k" x="2537" y="1179"/></g>
<g id="ut6"><text x="2558" y="1184" textLength="544">An act is right if it produces the greatest good for the greatest number</text></g>
<g id="ut7"><text x="2384" y="1339" textLength="130">Hedonic calculus</text><use href="#k" x="2526" y="1335"/></g>
<g id="ut8"><text x="2546" y="1215" textLength="523">Measures  and weighs up Pleasure and Pain as a result of an  action.</text></g>
<g id="ut9"><text x="2546" y="1246" textLength="320">No-one more important than anyone else</text></g>
<g id="ut10"><text x="2546" y="1370" textLength="258">Calculus made up of seven points</text><use href="#k" x="2817" y="1365"/></g>
<g id="ut11"><text x="2836" y="1277" textLength="406">Intensity of the pleasure (how strong the pleasure is)</text></g>
<g id="ut12"><text x="2836" y="1308" textLength="436">Duration of the pleasure (how long will the pleasure last)</text></g>
<g id="ut13"><text x="2836" y="1339" textLength="538">Certainty of the pleasure(how sure can you be the pleasure will arrive)</text></g>
<g id="ut14"><text x="2836" y="1370" textLength="538">Propinquity or Remoteness of the pleasure (how close is the pleasure)</text></g>
<g id="ut15"><text x="2836" y="1401" textLength="446">Fecundity of the pleasure (will more pleasure be followed)</text></g>
<g id="ut16"><text x="2836" y="1432" textLength="352">Purity of the pleasure (produce only pleasure)</text></g>
<g id="ut17"><text x="2836" y="1463" textLength="500">Extent of the pleasure ( number of people affected by the action)</text></g>
<g id="ut18"><text x="2386" y="1494" textLength="586">Act utilitarianism -&gt;Principle of utilitarianism to be applied in each situation.</text></g>
<g id="ut19"><text x="2286" y="1696" textLength="27">Mill</text><use href="#k" x="2326" y="1692"/></g>
<g id="ut20"><text x="2346" y="1664" textLength="213">Higher and Lower pleasures</text><use href="#k" x="2572" y="1659"/></g>
<g id="ut21"><text x="2593" y="1525" textLength="157">qualitative approach</text></g>
<g id="ut22"><text x="2591" y="1619" textLength="385">Higher pleasures -&gt; Mental/ Intellectual pleasures</text><use href="#k" x="2988" y="1613"/></g>
<g id="ut23"><text x="3008" y="1556" textLength="62">Religion</text></g>
<g id="ut24"><text x="3008" y="1587" textLength="84">Philosophy</text></g>
<g id="ut25"><text x="3008" y="1618" textLength="117">Reading poetry</text></g>
<g id="ut26"><text x="3008" y="1649" textLength="125">Appreicating art</text></g>
<g id="ut27"><text x="3008" y="1680" textLength="139">Listening to music</text></g>
<g id="ut28"><text x="2591" y="1757" textLength="344">Lower pleasures -&gt; Physical/Bodily pleasures</text><use href="#k" x="2947" y="1751"/></g>
<g id="ut29"><text x="2968" y="1711" textLength="48">Eating</text></g>
<g id="ut30"><text x="2968" y="1742" textLength="65">Drinking</text></g>
<g id="ut31"><text x="2968" y="1773" textLength="42">Sleep</text></g>
<g id="ut32"><text x="2968" y="1804" textLength="26">Sex</text></g>
<g id="ut33"><text x="2345" y="1850" textLength="137">Rule utilitarianism</text><use href="#k" x="2495" y="1846"/></g>
<g id="ut34"><text x="2514" y="1835" textLength="805">Strong rule utilitarianism -&gt; once a rule has been derived for the community  they must never be broken</text></g>
<g id="ut35"><text x="2515" y="1866" textLength="1203">Weak rule utilitarianism -&gt; Generally accepted rules there may still be situations as to where  the  greatest good for the greatest number can still be reached</text></g>
<g id="ut36"><text x="2285" y="1990" textLength="48">Singer</text><use href="#k" x="2346" y="1985"/></g>
<g id="ut37"><text x="2366" y="1990" textLength="184">Preference utilitarianism</text><use href="#k" x="2562" y="1986"/></g>
<g id="ut38"><text x="2582" y="1898" textLength="118">NOT hedonistic</text></g>
<g id="ut39"><text x="2582" y="1959" textLength="622">Questions often asked when deciding what is the best out come for the situation</text><use href="#k" x="3216" y="1954"/></g>
<g id="ut40"><text x="3236" y="1928" textLength="297">what is my preference in the situation?</text></g>
<g id="ut41"><text x="3236" y="1958" textLength="212">What is in my own interest?</text></g>
<g id="ut42"><text x="3236" y="1990" textLength="239">What outcome would i prefer ?</text></g>
<g id="ut43"><text x="2582" y="2021" textLength="474">It has to still obey the greatest good for  the greatest number</text></g>
<g id="ut44"><text x="2582" y="2052" textLength="892">Choose the action that gives the best possible outcome for those concerned. Not what produces the most pleasure.</text></g>
<g id="ut45"><text x="2582" y="2084" textLength="562">Our own preference cannot count for more than the preference of others</text></g>

<g id="me"><rect class="b" x="2103" y="2365" width="173" height="43" rx="5"/><text class="m" x="2189" y="2394" textLength="159">Medical Ethics 1</text><use href="#k" x="2283" y="2386"/></g>
<g id="me1"><text x="2304" y="2391" textLength="230">Abortion and Rights to a child</text><use href="#k" x="2546" y="2386"/></g>
<g id="me2"><text x="2567" y="2143" textLength="116">Sanctitcy of life</text><use href="#k" x="2695" y="2138"/></g>
<g id="me3"><text x="2717" y="2143" textLength="125">ALL life is sacred</text></g>
<g id="me4"><text x="2567" y="2205" textLength="163">Strong sanctity of life</text><use href="#k" x="2742" y="2200"/></g>
<g id="me5"><text x="2762" y="2174" textLength="316">'So God created humankind in his image'</text></g>
<g id="me6"><text x="2762" y="2205" textLength="117">Blessed by God</text></g>
<g id="me7"><text x="2762" y="2236" textLength="240">Given dominionship over world</text></g>
<g id="me8"><text x="2567" y="2267" textLength="154">Weak sanctity of life</text><use href="#k" x="2734" y="2262"/></g>
<g id="me9"><text x="2753" y="2267" textLength="356">Extraordinary means as a justification of killing</text><use href="#k" x="3121" y="2262"/></g>
<g id="me10"><text x="3142" y="2267" textLength="417">Applies the Christian principle of love and compassion</text></g>
<g id="me11"><text x="2567" y="2298" textLength="135">Justified Abortion</text><use href="#k" x="2715" y="2294"/></g>
<g id="me12"><text x="2734" y="2298" textLength="492">Double Effect (Save mothers life but means Aborting the foetus)</text></g>
<g id="me13"><text x="2565" y="2329" textLength="372">Following 'Defend the Innocent' Primary Precept</text><use href="#k" x="2950" y="2324"/></g>
<g id="me14"><text x="2972" y="2329" textLength="532">You cannot Abort a child as it cannot defend for its self or use reason</text></g>
<g id="me15"><text x="2567" y="2422" textLength="102">Quality of life</text><use href="#k" x="2681" y="2417"/></g>
<g id="me16"><text x="2701" y="2392" textLength="171">Disability in the foetus</text><use href="#k" x="2884" y="2387"/></g>
<g id="me17"><text x="2905" y="2360" textLength="687">They can be Aborted if screened and found to be disabled (physical or mental handicaps)</text></g>
<g id="me18"><text x="2905" y="2391" textLength="784">Some people dislike this as the "disabled" child might live a full and loving life despite of the disability</text></g>
<g id="me19"><text x="2905" y="2422" textLength="546">If every one did this there would be no "disabilities " in the human race</text></g>
<g id="me20"><text x="2701" y="2468" textLength="168">Equality and Disability</text><use href="#k" x="2882" y="2463"/></g>
<g id="me21"><text x="2903" y="2453" textLength="551">People who are disables should not be discriminated against in any way</text></g>
<g id="me22"><text x="2903" y="2484" textLength="292">Allow disabled people to live a full life</text></g>
<g id="me23"><text x="2565" y="2561" textLength="156">Pro-choice / Pro-life</text><use href="#k" x="2733" y="2557"/></g>
<g id="me24"><text x="2753" y="2531" textLength="82">Pro-choice</text><use href="#k" x="2847" y="2527"/></g>
<g id="me25"><text x="2867" y="2516" textLength="207">Mothers choice in abortion</text></g>
<g id="me26"><text x="2868" y="2546" textLength="221">The people involved concern</text></g>
<g id="me27"><text x="2753" y="2592" textLength="56">Pro-life</text><use href="#k" x="2821" y="2588"/></g>
<g id="me28"><text x="2842" y="2576" textLength="131">Against Abortion</text></g>
<g id="me29"><text x="2842" y="2609" textLength="173">wants child to be born</text></g>
<g id="me30"><text x="2566" y="2640" textLength="123">Rights to a child</text></g>

<g id="ge"><rect class="b" x="2056" y="2922" width="213" height="42" rx="5"/><text class="m" x="2162" y="2950" textLength="199">Genetic Engineering</text><use href="#k" x="2276" y="2943"/></g>
<g id="ge1"><text x="2299" y="2760" textLength="44">Crops</text><use href="#k" x="2357" y="2755"/></g>
<g id="ge2"><text x="2378" y="2699" textLength="622">A major benifit is the reduction in the use of fertilizers , herbicides and pesticides</text></g>
<g id="ge3"><text x="2378" y="2730" textLength="258">We can modify the DNA of plants</text><use href="#k" x="2649" y="2725"/></g>
<g id="ge4"><text x="2670" y="2730" textLength="359">To create a healthy yield and reduce pesticides</text></g>
<g id="ge5"><text x="2377" y="2776" textLength="307">Farmers buy into a circle of dependency</text><use href="#k" x="2697" y="2771"/></g>
<g id="ge6"><text x="2718" y="2761" textLength="581">The multinational companies are selling  seeds and fertilizers to the farmers</text></g>
<g id="ge7"><text x="2718" y="2792" textLength="652">The farmers soil becomes conditioned to a certain pesticide , herbicide and fertilizers</text></g>
<g id="ge8"><text x="2377" y="2823" textLength="617">Hostility to the Genetic modification of crops, described as 'Frankenstein - Food'</text></g>
<g id="ge9"><text x="2297" y="2870" textLength="60">Animals</text><use href="#k" x="2370" y="2865"/></g>
<g id="ge10"><text x="2390" y="2853" textLength="203">We can grow 'ears' on rats</text></g>
<g id="ge11"><text x="2389" y="2884" textLength="214">Similar to GM crops (above)</text></g>
<g id="ge12"><text x="2296" y="3024" textLength="63">Humans</text><use href="#k" x="2371" y="3020"/></g>
<g id="ge13"><text x="2391" y="2917" textLength="74">Germ line</text><use href="#k" x="2477" y="2912"/></g>
<g id="ge14"><text x="2497" y="2917" textLength="844">Sperm or eggs, are modified by the introduction of functional genes, which are integrated into their genomes</text><use href="#k" x="3354" y="2912"/></g>
<g id="ge15"><text x="3373" y="2917" textLength="573">Highly effective in counteracting genetic disorders and hereditary diseases</text></g>
<g id="ge16"><text x="2391" y="2948" textLength="105">Stomatic cells</text><use href="#k" x="2508" y="2943"/></g>
<g id="ge17"><text x="2528" y="2948" textLength="1100">Modifications and effects will be restricted to the individual patient only, and will not be inherited by the patients offspring or later generations</text></g>
<g id="ge18"><text x="2391" y="2993" textLength="80">Stem Cells</text><use href="#k" x="2483" y="2989"/></g>
<g id="ge19"><text x="2504" y="2993" textLength="323">They can be specialised into any other cell</text><use href="#k" x="2840" y="2989"/></g>
<g id="ge20"><text x="2861" y="2993" textLength="168">Can be obtained from</text><use href="#k" x="3041" y="2989"/></g>
<g id="ge21"><text x="3060" y="2978" textLength="204">Umbilical cord (The blood)</text></g>
<g id="ge22"><text x="3062" y="3009" textLength="155">Adults(From tissues)</text></g>
<g id="ge23"><text x="2391" y="3086" textLength="121">Saviour Siblings</text><use href="#k" x="2524" y="3081"/></g>
<g id="ge24"><text x="2545" y="3071" textLength="723">They are younger siblings created to save / improve the standard of living for the elder sibling</text><use href="#k" x="3280" y="3066"/></g>
<g id="ge25"><text x="3300" y="3055" textLength="316">Laws stop people having Saviour Siblings</text><use href="#k" x="3628" y="3050"/></g>
<g id="ge26"><text x="3648" y="3041" textLength="206">Save the life of the parents</text></g>
<g id="ge27"><text x="3647" y="3071" textLength="116">Harvest organs</text></g>
<g id="ge28"><text x="3300" y="3102" textLength="303">Genetically identical to the elder sibling</text><use href="#k" x="3615" y="3097"/></g>
<g id="ge29"><text x="3636" y="3102" textLength="137">Tissue type match</text></g>
<g id="ge30"><text x="2544" y="3133" textLength="327">Uses a lot of embryos  (IVF will be needed)</text></g>
<g id="ge31"><text x="2296" y="3179" textLength="52">Clones</text><use href="#k" x="2360" y="3175"/></g>
<g id="ge32"><text x="2380" y="3164" textLength="165">Reproductive Cloning</text><use href="#k" x="2557" y="3159"/></g>
<g id="ge33"><text x="2578" y="3164" textLength="1091">The genetic duplication of an existing organism especially by transferring the nucleus of a somatic cell of the organism into an enucleated cell</text></g>
<g id="ge34"><text x="2381" y="3194" textLength="151">Therapeutic cloning</text><use href="#k" x="2544" y="3190"/></g>
<g id="ge35"><text x="2564" y="3194" textLength="905">Stem cells from (typically) skin cells, and use those cells to grow tissue that are a perfect genetic match for the patient</text></g>
</svg>
